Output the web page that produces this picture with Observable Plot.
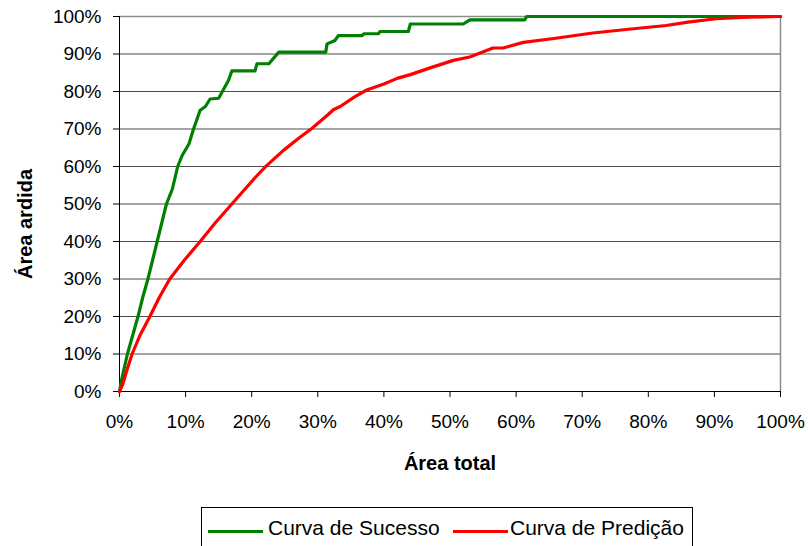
<!DOCTYPE html>
<html>
<head>
<meta charset="utf-8">
<script src="https://cdn.jsdelivr.net/npm/d3@7"></script>
<script src="https://cdn.jsdelivr.net/npm/@observablehq/plot@0.6"></script>
<style>
  html, body { margin: 0; padding: 0; background: #fff; overflow: hidden; }
  #wrap { position: relative; width: 808px; height: 546px; font-family: "Liberation Sans", Arial, sans-serif; }
  #legend { position: absolute; left: 201px; top: 507px; width: 492px; height: 50px; border: 1px solid #000; box-sizing: border-box; background: #fff; }
  .sw { position: absolute; top: 22px; height: 3px; width: 55px; }
  .lt { position: absolute; top: 9px; font-size: 21px; color: #000; white-space: nowrap; line-height: 22px; }
</style>
</head>
<body>
<div id="wrap">
  <div id="chart"></div>
  <div id="legend"></div>
</div>
<script>
// Curva de Sucesso (x = área total %, y = área ardida %)
const sucessoX = [0, 0.3, 1.2, 2, 2.8, 3.5, 4.3, 5, 5.7, 6.4, 7.1, 8, 8.8, 9.5, 10.5, 11.2, 12.2, 13, 13.7, 15, 16.5, 17, 20.5, 20.8, 22.6, 24.1, 31.2, 31.4, 32.6, 33.1, 36.7, 37, 39.2, 39.4, 43.7, 44, 52, 53, 61.3, 61.6, 100];
const sucessoY = [0, 3, 10, 15, 20, 25, 30, 35, 40, 45, 50, 54, 60, 63, 66, 70, 75, 76, 78, 78.2, 83, 85.5, 85.5, 87.4, 87.4, 90.5, 90.5, 92.7, 93.6, 94.9, 94.9, 95.4, 95.4, 96, 96, 98, 98, 99.1, 99.1, 100, 100];
// Curva de Predição
const predicaoX = [0, 0.5, 1.0, 1.9, 3.1, 4.6, 6.0, 7.6, 9.8, 12.2, 14.5, 17, 18.8, 20.5, 22.3, 24.8, 27.3, 29, 31.4, 32.4, 33.4, 35.5, 37.4, 40, 42, 44, 47, 50.5, 53, 56.5, 58, 61.1, 66, 71.6, 77, 82.7, 86, 90.3, 95, 100];
const predicaoY = [0, 2, 5, 10, 15, 20, 25, 30, 35, 40, 45, 50, 53.6, 57, 60.3, 64.3, 67.8, 70, 73.6, 75.2, 76, 78.5, 80.4, 82, 83.5, 84.5, 86.3, 88.3, 89.2, 91.6, 91.6, 93.1, 94.2, 95.6, 96.6, 97.6, 98.5, 99.4, 99.8, 100];

const seriesNames = ["Curva de Sucesso", "Curva de Predição"];
const seriesColors = ["#008000", "#ff0000"];
const tickValues = [0, 10, 20, 30, 40, 50, 60, 70, 80, 90, 100];
const xTitle = "Área total";
const yTitle = "Área ardida";

const data = [
  ...sucessoX.map((x, i) => ({x, y: sucessoY[i], s: seriesNames[0]})),
  ...predicaoX.map((x, i) => ({x, y: predicaoY[i], s: seriesNames[1]}))
];

const fmt = d => d + "%";

const chart = Plot.plot({
  width: 808,
  height: 500,
  marginLeft: 119,
  marginRight: 28,
  marginTop: 16,
  marginBottom: 109,
  style: {fontFamily: "'Liberation Sans', Arial, sans-serif", fontSize: "19px", color: "#000", background: "#fff"},
  x: {domain: [0, 100]},
  y: {domain: [0, 100]},
  color: {domain: seriesNames, range: seriesColors},
  marks: [
    Plot.ruleY(tickValues.slice(1, -1), {stroke: "#4d4d4d", strokeWidth: 1}),
    Plot.ruleY([100], {stroke: "#8c8c8c", strokeWidth: 1.5}),
    Plot.ruleX([100], {stroke: "#8c8c8c", strokeWidth: 1.5}),
    Plot.axisY({ticks: tickValues, tickFormat: fmt, tickSize: 6, tickPadding: 12, label: null, stroke: "#000"}),
    Plot.axisX({ticks: tickValues, tickFormat: fmt, tickSize: 6, tickPadding: 17, label: null, stroke: "#000"}),
    Plot.ruleX([0], {stroke: "#000", strokeWidth: 1}),
    Plot.ruleY([0], {stroke: "#000", strokeWidth: 1}),
    Plot.line(data, {x: "x", y: "y", z: "s", stroke: "s", strokeWidth: 3.2, strokeLinejoin: "round", strokeLinecap: "round"}),
    Plot.text([xTitle], {frameAnchor: "bottom", lineAnchor: "middle", dy: 72, fontWeight: "bold", fontSize: 20}),
    Plot.text([yTitle], {frameAnchor: "left", textAnchor: "middle", lineAnchor: "middle", dx: -94, dy: 20, rotate: -90, fontWeight: "bold", fontSize: 20})
  ]
});
document.getElementById("chart").appendChild(chart);

// Legend
const legend = document.getElementById("legend");
const swLeft = [6, 251];
const txtLeft = [66, 308];
seriesNames.forEach((name, i) => {
  const sw = document.createElement("div");
  sw.className = "sw";
  sw.style.left = swLeft[i] + "px";
  sw.style.background = seriesColors[i];
  legend.appendChild(sw);
  const t = document.createElement("div");
  t.className = "lt";
  t.style.left = txtLeft[i] + "px";
  t.textContent = name;
  legend.appendChild(t);
});
</script>
</body>
</html>
